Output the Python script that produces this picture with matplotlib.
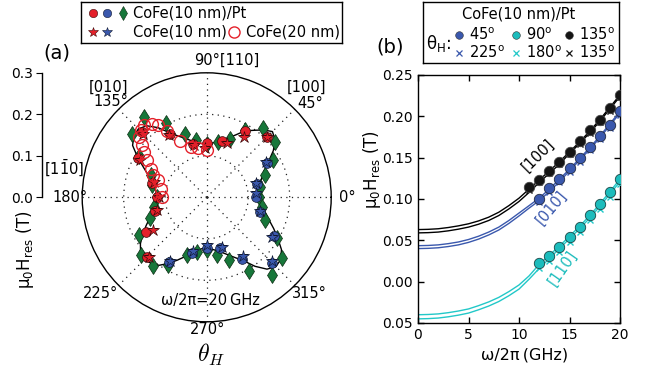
import numpy as np
import matplotlib
matplotlib.use('Agg')
import matplotlib.pyplot as plt

# ---------------- data: panel (a) polar ----------------
theta_fit = list(range(0, 365, 5))
r_fit = [0.124, 0.125, 0.128, 0.133, 0.142, 0.153, 0.172, 0.196, 0.215, 0.224,
         0.212, 0.197, 0.185, 0.166, 0.152, 0.142, 0.135, 0.131, 0.130, 0.130,
         0.133, 0.141, 0.151, 0.163, 0.180, 0.205, 0.225, 0.233, 0.229, 0.218,
         0.192, 0.167, 0.148, 0.136, 0.127, 0.121, 0.118, 0.122, 0.128, 0.137,
         0.146, 0.161, 0.178, 0.195, 0.208, 0.212, 0.208, 0.200, 0.184, 0.167,
         0.152, 0.140, 0.130, 0.124, 0.122, 0.125, 0.130, 0.137, 0.147, 0.160,
         0.176, 0.203, 0.226, 0.236, 0.233, 0.220, 0.198, 0.178, 0.160, 0.147,
         0.135, 0.128, 0.124]

theta_dia = [0, 11, 21, 29, 39, 51, 60, 68, 78, 90, 101, 109, 119, 128, 140, 149,
             158, 167, 180, 190, 200, 209, 221, 232, 240, 251, 260, 270, 280, 290,
             300, 310, 321, 330, 339, 350]
r_dia = [0.125, 0.130, 0.150, 0.183, 0.211, 0.214, 0.186, 0.152, 0.136, 0.129,
         0.140, 0.162, 0.204, 0.246, 0.236, 0.191, 0.146, 0.135, 0.120, 0.130,
         0.145, 0.187, 0.211, 0.210, 0.188, 0.146, 0.133, 0.128, 0.140, 0.160,
         0.206, 0.243, 0.232, 0.196, 0.150, 0.135]

theta_red_c = [45, 60, 75, 90, 105, 120, 135, 150, 165, 180, 195, 210, 225]
r_red_c = [0.207, 0.184, 0.141, 0.130, 0.132, 0.177, 0.222, 0.191, 0.136, 0.120,
           0.129, 0.169, 0.204]
theta_blue_c = [240, 255, 270, 285, 300, 315, 330, 345, 0, 15, 30]
r_blue_c = [0.180, 0.138, 0.122, 0.126, 0.171, 0.224, 0.187, 0.133, 0.118, 0.125,
            0.167]

theta_red_s = [45, 58, 70, 92, 104, 121, 135, 151, 164, 180, 194, 211, 226]
r_red_s = [0.205, 0.170, 0.140, 0.119, 0.129, 0.175, 0.216, 0.183, 0.133, 0.116,
           0.124, 0.152, 0.200]
theta_blue_s = [240, 256, 270, 287, 302, 316, 329, 346, 5, 16, 31]
r_blue_s = [0.176, 0.134, 0.115, 0.124, 0.167, 0.220, 0.184, 0.132, 0.120, 0.124,
            0.167]

theta_open = [90, 100, 107, 115, 121, 124, 127, 131, 134, 138, 141, 144, 148, 153,
              157, 161, 170, 179]
r_open = [0.114, 0.120, 0.127, 0.150, 0.185, 0.209, 0.221, 0.232, 0.227, 0.218,
          0.200, 0.187, 0.170, 0.150, 0.140, 0.125, 0.112, 0.108]

# ---------------- data: panel (b) ----------------
f_fit = list(range(0, 21))
fit_black_1 = [0.063, 0.0633, 0.064, 0.0655, 0.0675, 0.070, 0.0735, 0.078, 0.084, 0.092,
               0.101, 0.112, 0.123, 0.134, 0.145, 0.157, 0.169, 0.182, 0.196, 0.211, 0.226]
fit_black_2 = [0.059, 0.0593, 0.060, 0.0615, 0.0635, 0.066, 0.0695, 0.074, 0.080, 0.088,
               0.097, 0.108, 0.120, 0.131, 0.142, 0.155, 0.167, 0.180, 0.194, 0.209, 0.224]
fit_blue_1 = [0.0435, 0.0438, 0.0445, 0.046, 0.048, 0.051, 0.055, 0.060, 0.066, 0.074,
              0.083, 0.092, 0.101, 0.112, 0.124, 0.136, 0.149, 0.162, 0.176, 0.191, 0.206]
fit_blue_2 = [0.040, 0.0403, 0.041, 0.0425, 0.0445, 0.0475, 0.0515, 0.0565, 0.0625, 0.0705,
              0.0795, 0.089, 0.098, 0.109, 0.121, 0.134, 0.147, 0.160, 0.174, 0.189, 0.204]
fit_cyan_1 = [-0.040, -0.0397, -0.039, -0.0375, -0.0355, -0.033, -0.029, -0.0245, -0.019,
              -0.012, -0.004, 0.007, 0.021, 0.032, 0.043, 0.055, 0.067, 0.080, 0.094, 0.109,
              0.124]
fit_cyan_2 = [-0.045, -0.0447, -0.044, -0.0425, -0.0405, -0.038, -0.034, -0.0295, -0.024,
              -0.017, -0.009, 0.003, 0.016, 0.028, 0.040, 0.052, 0.064, 0.077, 0.091, 0.106,
              0.121]

f_black = [11, 12, 13, 14, 15, 16, 17, 18, 19, 20]
H_black = [0.114, 0.123, 0.134, 0.145, 0.157, 0.170, 0.183, 0.196, 0.210, 0.226]
H_black_x = [0.111, 0.120, 0.131, 0.142, 0.154, 0.167, 0.180, 0.193, 0.207, 0.223]
f_blue = [12, 13, 14, 15, 16, 17, 18, 19, 20]
H_blue = [0.100, 0.113, 0.124, 0.137, 0.149, 0.163, 0.176, 0.190, 0.206]
H_blue_x = [0.096, 0.109, 0.120, 0.133, 0.145, 0.159, 0.172, 0.186, 0.202]
f_cyan = [12, 13, 14, 15, 16, 17, 18, 19, 20]
H_cyan = [0.022, 0.031, 0.042, 0.054, 0.066, 0.081, 0.094, 0.109, 0.124]
H_cyan_x = [0.016, 0.025, 0.036, 0.048, 0.060, 0.075, 0.088, 0.103, 0.118]

yticks_b = [-0.05, 0.0, 0.05, 0.10, 0.15, 0.20, 0.25]
yticklabels_b = ['0.05', '0.00', '0.05', '0.10', '0.15', '0.20', '0.25']
xticks_b = [0, 5, 10, 15, 20]

RED = '#e4202a'
BLUE = '#3a58ad'
GREEN = '#17773a'
BLACK = '#151515'
CYAN = '#1cbcbc'
CYANL = '#22c8c8'

W, H = 660, 375
fig = plt.figure(figsize=(6.6, 3.75), dpi=100)


def fx(x):
    return x / W


def fy(y):
    return 1 - y / H


def ptxt(x, y, s, **kw):
    kw.setdefault('ha', 'center')
    kw.setdefault('va', 'center')
    kw.setdefault('fontsize', 10)
    return fig.text(fx(x), fy(y), s, **kw)


# ---------------- panel (a) ----------------
cx, cy, R = 206.7, 197.3, 124.5
axp = fig.add_axes([fx(cx - R), fy(cy + R), 2 * R / W, 2 * R / H], projection='polar')
axp.set_ylim(0, 0.3)
axp.set_yticks([0.1, 0.2])
axp.set_yticklabels([])
axp.set_xticks(np.deg2rad(np.arange(0, 360, 45)))
axp.set_xticklabels([])
axp.grid(True, color='#222222', linestyle=(0, (1, 3.5)), linewidth=0.9)
axp.spines['polar'].set_linewidth(1.0)
axp.tick_params(length=0)

axp.plot(np.deg2rad(theta_fit), r_fit, '-', color='k', lw=1.0, zorder=3)
axp.plot(np.deg2rad(theta_dia), r_dia, 'd', color=GREEN, ms=8.5, mec='#0a2a10', mew=0.5,
         ls='none', zorder=4)
axp.plot(np.deg2rad(theta_red_c), r_red_c, 'o', color=RED, ms=7, mec='#3a0a0a', mew=0.5,
         ls='none', zorder=5)
axp.plot(np.deg2rad(theta_blue_c), r_blue_c, 'o', color=BLUE, ms=7, mec='#101830', mew=0.5,
         ls='none', zorder=5)
axp.plot(np.deg2rad(theta_red_s), r_red_s, '*', color=RED, ms=9, mec='#3a0a0a', mew=0.5,
         ls='none', zorder=6)
axp.plot(np.deg2rad(theta_blue_s), r_blue_s, '*', color=BLUE, ms=9, mec='#101830', mew=0.5,
         ls='none', zorder=6)
axp.plot(np.deg2rad(theta_open), r_open, 'o', mfc='none', mec=RED, ms=8.5, mew=1.0,
         ls='none', zorder=7)

# radial scale axis
axr = fig.add_axes([fx(41.7), fy(197.3), 0.0005, (197.3 - 72.8) / H])
axr.set_ylim(0, 0.3)
axr.set_yticks([0.0, 0.1, 0.2, 0.3])
axr.set_yticklabels(['0.0', '0.1', '0.2', '0.3'])
axr.set_xticks([])
for s in ['top', 'right', 'bottom']:
    axr.spines[s].set_visible(False)
axr.spines['left'].set_linewidth(1.0)
axr.tick_params(axis='y', direction='out', length=4, labelsize=10, pad=2)
axr.patch.set_visible(False)

ptxt(25, 250, 'μ$_0$H$_\\mathregular{res}$ (T)', rotation=90, fontsize=12)
ptxt(227, 60, '90°[110]', fontsize=10.5)
ptxt(108, 87, '[010]', fontsize=10.5)
ptxt(111, 101, '135°', fontsize=10.5)
ptxt(307, 87, '[100]', fontsize=10.5)
ptxt(310, 103, '45°', fontsize=10.5)
ptxt(70, 197, '180°', fontsize=10.5)
ptxt(64, 168, '[1$\\mathregular{\\bar{1}}$0]', fontsize=10.5)
ptxt(347, 197, '0°', fontsize=10.5)
ptxt(100, 293, '225°', fontsize=10.5)
ptxt(309, 293, '315°', fontsize=10.5)
ptxt(208, 330, '270°', fontsize=10.5)
ptxt(211, 355, r'$\theta_H$', fontsize=17, math_fontfamily='cm')
ptxt(210, 300, 'ω/2π=20\u2009GHz', fontsize=10.5)
ptxt(57, 53, '(a)', fontsize=14)

# legend (a)
axl = fig.add_axes([fx(81), fy(43), (342 - 81) / W, (43 - 1.5) / H])
axl.set_xlim(81, 342)
axl.set_ylim(43, 1.5)
axl.set_xticks([])
axl.set_yticks([])
for s in axl.spines.values():
    s.set_linewidth(1.0)
axl.plot([93], [13], 'o', color=RED, ms=6, mec='#3a0a0a', mew=0.4)
axl.plot([107], [13], 'o', color=BLUE, ms=6, mec='#101830', mew=0.4)
axl.plot([123], [13], 'd', color=GREEN, ms=7, mec='#0a2a10', mew=0.4)
axl.plot([93], [32], '*', color=RED, ms=7, mec='#3a0a0a', mew=0.4)
axl.plot([107], [32], '*', color=BLUE, ms=7, mec='#101830', mew=0.4)
axl.plot([234], [32], 'o', mfc='none', mec=RED, ms=8, mew=1.0)
axl.text(133, 13, 'CoFe(10 nm)/Pt', ha='left', va='center', fontsize=10.5)
axl.text(133, 32, 'CoFe(10 nm)', ha='left', va='center', fontsize=10.5)
axl.text(246, 32, 'CoFe(20 nm)', ha='left', va='center', fontsize=10.5)

# ---------------- panel (b) ----------------
axb = fig.add_axes([fx(418), fy(323), 202 / W, 248 / H])
axb.set_xlim(0, 20)
axb.set_ylim(-0.05, 0.25)
axb.set_xticks(xticks_b)
axb.set_yticks(yticks_b)
axb.set_yticklabels(yticklabels_b)
axb.tick_params(direction='in', top=True, right=True, length=4, width=1, labelsize=10)
for s in axb.spines.values():
    s.set_linewidth(1.0)

axb.plot(f_fit, fit_black_1, '-', color='k', lw=1.0, zorder=2)
axb.plot(f_fit, fit_black_2, '-', color='k', lw=1.0, zorder=2)
axb.plot(f_fit, fit_blue_1, '-', color=BLUE, lw=1.0, zorder=2)
axb.plot(f_fit, fit_blue_2, '-', color=BLUE, lw=1.0, zorder=2)
axb.plot(f_fit, fit_cyan_1, '-', color=CYANL, lw=1.0, zorder=2)
axb.plot(f_fit, fit_cyan_2, '-', color=CYANL, lw=1.0, zorder=2)

axb.plot(f_black, H_black_x, 'x', color='k', ms=5, mew=1.0, ls='none', zorder=3)
axb.plot(f_blue, H_blue_x, 'x', color=BLUE, ms=5, mew=1.0, ls='none', zorder=3)
axb.plot(f_cyan, H_cyan_x, 'x', color=CYANL, ms=5, mew=1.0, ls='none', zorder=3)
axb.plot(f_black, H_black, 'o', color=BLACK, ms=7.5, mec='#444444', mew=0.6, ls='none', zorder=4)
axb.plot(f_blue, H_blue, 'o', color=BLUE, ms=7.5, mec='#222a40', mew=0.6, ls='none', zorder=4)
axb.plot(f_cyan, H_cyan, 'o', color=CYAN, ms=7.5, mec='#1a4545', mew=0.6, ls='none', zorder=4)

ptxt(525, 355, 'ω/2π\u2009(GHz)', fontsize=11.5)
ptxt(372, 170, 'μ$_0$H$_\\mathregular{res}$ (T)', rotation=90, fontsize=12)
ptxt(538, 155, '[100]', rotation=45, fontsize=10.5, color='k')
ptxt(551, 208, '[010]', rotation=50, fontsize=10.5, color=BLUE)
ptxt(563, 268, '[110]', rotation=55, fontsize=10.5, color=CYAN)
ptxt(390, 47, '(b)', fontsize=14)

# legend (b)
axl2 = fig.add_axes([fx(423), fy(63), (619 - 423) / W, (63 - 1.5) / H])
axl2.set_xlim(423, 619)
axl2.set_ylim(63, 1.5)
axl2.set_xticks([])
axl2.set_yticks([])
for s in axl2.spines.values():
    s.set_linewidth(1.0)
axl2.text(519, 14, 'CoFe(10 nm)/Pt', ha='center', va='center', fontsize=10.5)
axl2.text(426, 43, 'θ$_\\mathregular{H}$:', ha='left', va='center', fontsize=12)
row1 = [(459, BLUE, '45$^\\mathregular{o}$'), (516, CYAN, '90$^\\mathregular{o}$'),
        (569, BLACK, '135$^\\mathregular{o}$')]
row2 = [(459, BLUE, '225$^\\mathregular{o}$'), (516, CYANL, '180$^\\mathregular{o}$'),
        (569, BLACK, '135$^\\mathregular{o}$')]
for x, c, s in row1:
    axl2.plot([x], [35], 'o', color=c, ms=5.5, mec='#333333', mew=0.4)
    axl2.text(x + 10, 35, s, ha='left', va='center', fontsize=10.5)
for x, c, s in row2:
    axl2.plot([x], [53], 'x', color=c, ms=5, mew=0.9)
    axl2.text(x + 10, 53, s, ha='left', va='center', fontsize=10.5)

fig.savefig('out.png', dpi=100)
